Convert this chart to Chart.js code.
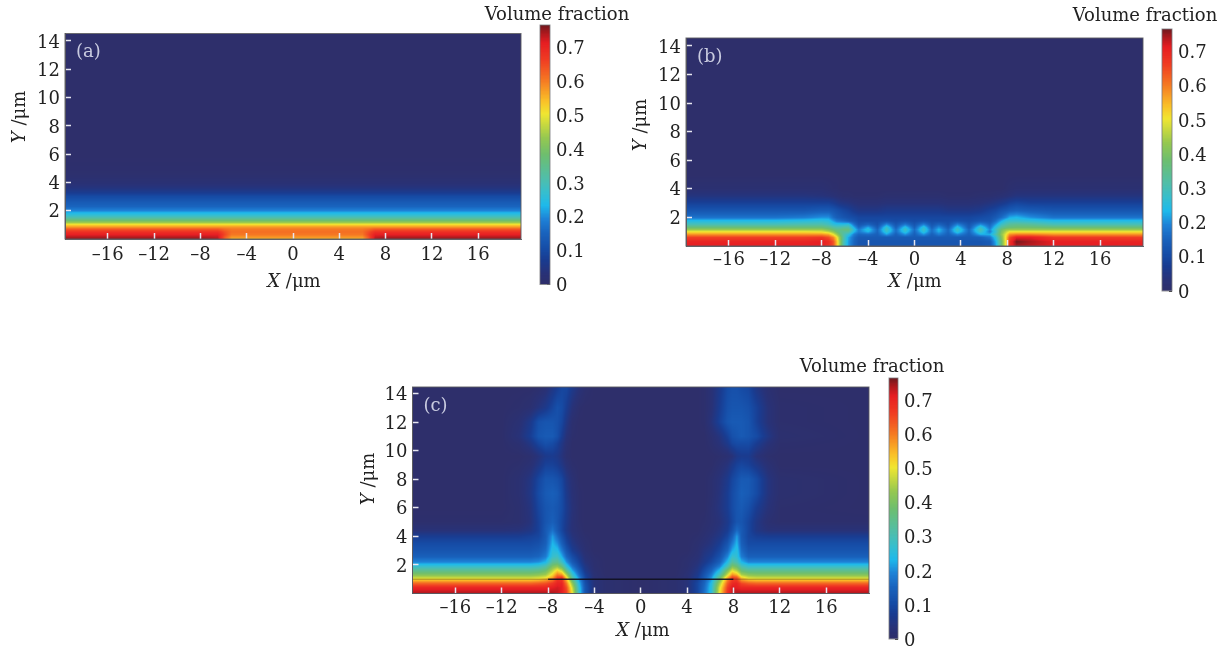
<!DOCTYPE html>
<html>
<head>
<meta charset="utf-8">
<title>Volume fraction</title>
<script src="https://cdn.jsdelivr.net/npm/chart.js@4/dist/chart.umd.min.js"></script>
<style>
html,body{margin:0;padding:0;background:#fff;}
body{position:relative;width:1227px;height:647px;overflow:hidden;}
canvas{position:absolute;}
</style>
</head>
<body>
<script>
// tick labels
const xTicks = [-16, -12, -8, -4, 0, 4, 8, 12, 16];
const yTicks = [2, 4, 6, 8, 10, 12, 14];
const barTicks = [0, 0.1, 0.2, 0.3, 0.4, 0.5, 0.6, 0.7];

// colour bar: value -> rgb
const mapValues = [0, .03, .07, .1, .15, .19, .23, .27, .31, .38, .43, .5, .54, .6, .66, .71, .74, .766];
const mapColors = [[46,47,107],[40,50,120],[25,60,145],[22,75,165],[25,100,190],[30,130,215],[30,185,235],[55,190,205],[80,190,170],[110,190,110],[150,200,80],[240,230,50],[250,190,40],[245,120,35],[240,60,35],[230,30,35],[170,25,30],[100,25,30]];

// values, volume fraction in %, one line per Y
const aX = [-19.7, -8, -6.5, -5.9, -5.3, 0, 6, 6.5, 7.1, 8, 19.7];
const aY = [0, .1, .3, .5, .7, .85, 1, 1.15, 1.3, 1.5, 1.7, 1.85, 2, 2.3, 2.6, 3, 3.3, 3.6, 4, 4.6, 6, 14.4];
const aVal = [
[75,75,74,62,54,54,54,62,74,75,75],
[74,74,73,63,57,57,57,63,73,74,74],
[71,71,71,65,60,60,60,65,71,71,71],
[68,68,68,64,61,61,61,64,68,68,68],
[63,63,63,61,60,60,60,61,63,63,63],
[57,57,57,57,57,57,57,57,57,57,57],
[52,52,52,52,52,52,52,52,52,52,52],
[44,44,44,44,44,44,44,44,44,44,44],
[38,38,38,38,38,38,38,38,38,38,38],
[31,31,31,31,31,31,31,31,31,31,31],
[26,26,26,26,26,26,26,26,26,26,26],
[23,23,23,23,23,23,23,23,23,23,23],
[19,19,19,19,19,19,19,19,19,19,19],
[15,15,15,15,15,15,15,15,15,15,15],
[13,13,13,13,13,13,13,13,13,13,13],
[10,10,10,10,10,10,10,10,10,10,10],
[6.5,6.5,6.5,6.5,6.5,6.5,6.5,6.5,6.5,6.5,6.5],
[4,4,4,4,4,4,4,4,4,4,4],
[2,2,2,2,2,2,2,2,2,2,2],
[.6,.6,.6,.6,.6,.6,.6,.6,.6,.6,.6],
[0,0,0,0,0,0,0,0,0,0,0],
[0,0,0,0,0,0,0,0,0,0,0]
];

const bX = [-19.7,-12,-9.5,-8,-7.4,-7,-6.7,-6.4,-6.1,-5.7,-5.2,-4.8,-4,-3.2,-2.4,-1.6,-.8,0,.8,1.5,2.1,2.9,3.7,4.7,5.7,6.5,7,7.5,7.9,8.2,8.8,10,12,19.7];
const bY = [0, .3, .6, .8, 1, 1.15, 1.3, 1.5, 1.75, 2, 2.5, 3, 3.5, 4, 5, 14.4];
const bVal = [
[71,71,71,71,68,64,54,42,30,21,15,12,12,12,12,12,12,12,12,12,12,12,12,12,12,13,21,38,52,68,74,73,71,71],
[70,70,70,71,69,64,54,42,30,21,15,12,12,12,12,12,12,12,12,12,12,12,12,12,12,13,22,38,52,68,76,74,71,70],
[66,66,66,67,64,59,51,41,31,22,16,13,13,13,13,13,13,13,13,13,13,13,13,13,14,17,25,40,52,64,71,71,67,66],
[58,58,58,58,56,50,44,37,31,26,18,15,16,14,21,14,20,14,20,14,18,14,19,14,22,22,30,42,50,58,60,60,58,58],
[50,50,50,49,46,42,37,34,33,33,23,18,23,15,27,16,26,15,26,16,22,15,26,15,28,18,27,40,46,50,50,50,50,50],
[43,43,43,43,40,37,35,35,36,36,25,18,25,15,29,16,28,16,28,16,23,15,28,15,30,19,28,38,42,43,43,43,43,43],
[37,37,37,37,35,32,31,31,32,32,22,15,22,13,27,14,25,14,26,14,20,13,25,13,27,17,25,33,36,37,38,38,37,37],
[30,30,31,31,29,26,25,25,25,26,17,12,15,11,20,12,18,12,19,12,15,11,19,12,20,15,21,28,31,33,34,33,30,30],
[24,24,25,26,25,21,18,17,16,14,12,10,10,10,11,10,11,10,11,10,10,10,11,10,12,12,16,22,26,27,27,26,24,24],
[17,17,18,20,20,16,14,13,12,11,10,9,9,9,9,9,9,9,9,9,9,9,9,9,10,11,13,16,19,22,23,20,17,17],
[12,12,12,13,13,12,11,10,9,8,6,5,5,5,6,6,6,6,6,6,6,5,5,5,6,8,9,11,12,13,14,13,12,12],
[8,8,8,8,8,7,6,5,4.5,4,3,2.5,2.5,2.5,3,3,3,3,3,3,3,2.5,2.5,2.5,3,4,5,6,7,8,9,8,8,8],
[4,4,4,3.5,3,2.5,2,1.5,1,1,.5,.5,.5,.5,1,1,1,1,1,1,1,.5,.5,.5,1,1,1.5,2,2.5,3,4,4,4,4],
[1.5,1.5,1.5,1.5,1,.5,.5,0,0,0,0,0,0,0,0,0,0,0,0,0,0,0,0,0,0,0,0,0,.5,1,1.5,1.5,1.5,1.5],
[0,0,0,0,0,0,0,0,0,0,0,0,0,0,0,0,0,0,0,0,0,0,0,0,0,0,0,0,0,0,0,0,0,0],
[0,0,0,0,0,0,0,0,0,0,0,0,0,0,0,0,0,0,0,0,0,0,0,0,0,0,0,0,0,0,0,0,0,0]
];

const cX = [-19.7,-12,-10.5,-9.5,-8.8,-8.2,-7.6,-7.2,-6.8,-6.4,-5.9,-5.3,-4.8,-4,-3,0,3,4,4.9,5.5,6.1,6.8,7.5,7.9,8.3,8.7,9.3,10,11,12,19.7];
const cY = [0, .4, .7, .9, 1.1, 1.3, 1.6, 1.9, 2.2, 2.6, 3, 3.5, 4, 4.4, 5, 6, 7, 8, 9, 9.6, 10.5, 11, 12, 13, 14.4];
const cVal = [
[74,74,74,74,74,74,74,73,71,66,50,26,12,3,1,0,1,3,9,17,25,50,68,73,74,74,74,74,74,74,74],
[70,70,70,70,70,70,71,72,71,64,47,25,12,3,1,0,1,3,9,16,25,48,66,72,71,70,70,70,70,70,70],
[62,62,62,62,63,64,67,70,70,60,42,23,11,3,1,0,1,3,9,15,24,44,63,69,70,65,63,62,62,62,62],
[55,55,55,55,56,58,62,68,68,56,37,21,10,3,1,0,1,3,8,14,22,40,60,67,67,59,56,55,55,55,55],
[47,47,47,47,48,50,57,66,68,52,32,19,9,2,.5,0,.5,2,7,13,20,36,56,66,64,53,48,47,47,47,47],
[41,41,41,41,42,44,52,60,58,45,28,16,8,2,0,0,0,2,6,12,18,30,48,58,55,45,42,41,41,41,41],
[34,34,34,34,35,38,46,52,47,34,22,13,6,1.5,0,0,0,1.5,5,10,15,24,40,49,45,37,34,34,34,34,34],
[27,27,27,27,28,31,40,42,36,26,17,10,5,1,0,0,0,1,4,8,12,18,30,40,37,30,27,27,27,27,27],
[19,19,19,19,20,23,33,34,28,20,13,8,3.5,1,0,0,0,1,3,6,9,14,24,32,30,23,19,19,19,19,19],
[14,14,14,14,15,18,27,28,22,15,10,6,2.5,.5,0,0,0,.5,2,5,7,11,19,27,26,18,14,14,14,14,14],
[12,12,12,12,13,16,25,24,18,12,7,4,1.5,0,0,0,0,0,1.5,4,5.5,9,15,22,25,16,12,12,12,12,12],
[10,10,10,10,11,14,23,20,14,9,5,2.5,1,0,0,0,0,0,1,2.5,4,7,12,18,23,14,10,10,10,10,10],
[7,7,7,8,9,13,21,16,11,7,3.5,1.5,.5,0,0,0,0,0,.5,1.5,3,5,9,14,21,13,9,7.5,7,7,7],
[3,3,3.5,5,8,13,17,13,9,5.5,2.5,1,0,0,0,0,0,0,0,1,2,4,7,11,16,13,9,5,3,3,3],
[.5,.5,1,3.5,8,12,14,12,9,6,2.5,.5,0,0,0,0,0,0,0,.5,1.5,3,6,9,12,12,9,5,1.5,.5,.5],
[0,0,1,4,9,12,13,12,10,6.5,3,.5,0,0,0,0,0,0,0,0,1.5,4,7,10,12,13,11,7,3,.5,0],
[0,0,1.5,5,10,13,14,13,10,6,2.5,.5,0,0,0,0,0,0,0,0,1,3.5,7,10,12,14,13,10,4,1,0],
[0,0,1.5,4.5,9,12,12,11,9,5,2,0,0,0,0,0,0,0,0,0,1,3,6,9,11,13,13,10,4,1,0],
[0,0,.5,2,5,8,8,7,5,2.5,.5,0,0,0,0,0,0,0,0,0,0,1.5,3.5,6,8,9,8,5.5,2,0,0],
[0,0,0,1,3.5,6,6.5,5.5,3.5,1,0,0,0,0,0,0,0,0,0,0,0,.5,1.5,3,5.5,6.5,6.5,3,.5,0,0],
[0,0,1.5,5,9,11,10,8,5,2,0,0,0,0,0,0,0,0,0,0,1,3,6,9,10,10,10,7,3,.5,0],
[0,0,3,7.5,12,13,13,11,7,3,.5,0,0,0,0,0,0,0,0,0,1.5,4,8,11,12,13,12,10,5,1,0],
[0,0,2,6,11,12,12,11,9,5,1,0,0,0,0,0,0,0,0,.5,3.5,8,12,13,13,13,12,8,3,.5,0],
[0,0,.5,1.5,4,6,9,11,10,7,3,.5,0,0,0,0,0,0,0,.5,2.5,7,11,12,12,12,11,8,3,.5,0],
[0,0,0,0,.5,2,5,7,9,9,6,3,1,0,0,0,0,0,0,.5,2.5,6,10,11,11,10,9,5,1.5,0,0]
];

// thin dark contour of panel (c), at Y = 1
const cLineX = [-8, 8];
const cLineY = [1, 1];
const cFaintLeftX = [-19.7, -8];
const cFaintRightX = [8, 19.7];

const serif = "'DejaVu Serif'";
Chart.defaults.font.family = serif;
Chart.defaults.font.size = 18;
Chart.defaults.color = '#222222';
Chart.defaults.animation = false;

function fmtX(v) { return v < 0 ? '\u2013' + (-v) : String(v); }
// empty first line with a tiny line height pushes the label down to sit on its tick
function lowered(text) { return ['', text]; }
const lowFont = {lineHeight: '4px'};

function colorFor(v) {
    if (v <= mapValues[0]) return mapColors[0];
    for (let i = 1; i < mapValues.length; i++) {
        if (v <= mapValues[i]) {
            const t = (v - mapValues[i-1]) / (mapValues[i] - mapValues[i-1]);
            const a = mapColors[i-1], b = mapColors[i];
            return [a[0]+(b[0]-a[0])*t, a[1]+(b[1]-a[1])*t, a[2]+(b[2]-a[2])*t];
        }
    }
    return mapColors[mapColors.length-1];
}

// where p falls between the nodes in list: [index, fraction]
function locate(list, p) {
    if (p <= list[0]) return [0, 0];
    for (let i = 1; i < list.length; i++) {
        if (p <= list[i]) return [i-1, (p - list[i-1]) / (list[i] - list[i-1])];
    }
    return [list.length-2, 1];
}

// paints the field behind the axes, going through the chart's own scales
function fieldPlugin(xs, ys, vals, tag, title) {
    return {
        id: 'field',
        beforeDraw(chart) {
            const area = chart.chartArea, sx = chart.scales.x, sy = chart.scales.y;
            const l = Math.round(area.left), t = Math.round(area.top);
            const w = Math.round(area.right) - l, h = Math.round(area.bottom) - t;
            const off = document.createElement('canvas');
            off.width = w; off.height = h;
            const oc = off.getContext('2d');
            const img = oc.createImageData(w, h);
            const colPos = [];
            for (let i = 0; i < w; i++) colPos.push(locate(xs, sx.getValueForPixel(l + i + .5)));
            for (let j = 0; j < h; j++) {
                const rp = locate(ys, sy.getValueForPixel(t + j + .5));
                const r0 = vals[rp[0]], r1 = vals[rp[0]+1];
                for (let i = 0; i < w; i++) {
                    const c = colPos[i][0], f = colPos[i][1];
                    const top = r0[c] + (r0[c+1] - r0[c]) * f;
                    const bot = r1[c] + (r1[c+1] - r1[c]) * f;
                    const rgb = colorFor((top + (bot - top) * rp[1]) / 100);
                    const k = (j * w + i) * 4;
                    img.data[k] = rgb[0]; img.data[k+1] = rgb[1]; img.data[k+2] = rgb[2]; img.data[k+3] = 255;
                }
            }
            oc.putImageData(img, 0, 0);
            chart.ctx.drawImage(off, l, t);
        },
        afterDraw(chart) {
            const area = chart.chartArea, ctx = chart.ctx;
            ctx.save();
            ctx.strokeStyle = 'rgba(90,90,95,0.9)';
            ctx.lineWidth = 1;
            ctx.strokeRect(area.left, area.top, area.right - area.left, area.bottom - area.top);
            // panel letter
            ctx.font = '18px ' + serif;
            ctx.fillStyle = '#c9cbe0';
            ctx.textBaseline = 'middle';
            ctx.fillText(tag, area.left + 11, area.top + 19);
            // axis titles, italic letter and upright unit
            ctx.fillStyle = '#222222';
            ctx.textAlign = 'left';
            ctx.font = 'italic 18px ' + serif;
            const xw = ctx.measureText('X ').width;
            ctx.font = '18px ' + serif;
            const uw = ctx.measureText('/\u03bcm').width;
            let px = title.xc - (xw + uw) / 2;
            ctx.font = 'italic 18px ' + serif;
            ctx.fillText('X ', px, title.xy);
            ctx.font = '18px ' + serif;
            ctx.fillText('/\u03bcm', px + xw, title.xy);
            ctx.translate(title.yx, title.yc);
            ctx.rotate(-Math.PI / 2);
            ctx.font = 'italic 18px ' + serif;
            const yw = ctx.measureText('Y ').width;
            px = -(yw + uw) / 2;
            ctx.fillText('Y ', px, 0);
            ctx.font = '18px ' + serif;
            ctx.fillText('/\u03bcm', px + yw, 0);
            ctx.restore();
        }
    };
}

function addCanvas(left, top, width, height) {
    const cv = document.createElement('canvas');
    cv.width = width; cv.height = height;
    cv.style.left = left + 'px'; cv.style.top = top + 'px';
    cv.style.width = width + 'px'; cv.style.height = height + 'px';
    document.body.appendChild(cv);
    return cv;
}

function drawField(box, xs, ys, vals, tag, title, extra) {
    const padL = 65, padT = 10, padR = 10, padB = 60;
    const cl = Math.floor(box.l - padL), ct = Math.floor(box.t - padT);
    const w = Math.ceil(box.r + padR) - cl, h = Math.ceil(box.b + padB) - ct;
    const nodes = [];
    ys.forEach((y, j) => {
        if (vals[j].length !== xs.length) throw new Error(tag + ' row ' + j + ' has ' + vals[j].length);
        xs.forEach((x, i) => nodes.push({x: x, y: y, v: vals[j][i]}));
    });
    const t = {xc: title.xc - cl, xy: title.xy - ct, yx: title.yx - cl, yc: title.yc - ct};
    new Chart(addCanvas(cl, ct, w, h), {
        type: 'scatter',
        data: {
            datasets: [{label: 'Volume fraction', data: nodes, pointRadius: 0, pointHitRadius: 0}].concat(extra || [])
        },
        plugins: [fieldPlugin(xs, ys, vals, tag, t)],
        options: {
            responsive: false,
            events: [],
            layout: {padding: {left: 0, top: box.t - ct, right: w - (box.r - cl), bottom: 0}},
            plugins: {legend: {display: false}, tooltip: {enabled: false}},
            scales: {
                x: {
                    type: 'linear', position: 'bottom', min: -19.7, max: 19.7,
                    afterBuildTicks(s) { s.ticks = xTicks.map(v => ({value: v})); },
                    afterFit(s) { s.height = h - (box.b - ct); s.paddingLeft = 0; s.paddingRight = 0; },
                    ticks: {callback: fmtX, autoSkip: false, maxRotation: 0, padding: title.xPad},
                    grid: {drawOnChartArea: false, tickLength: -6, tickColor: '#e6e6f0', tickWidth: 1.5},
                    border: {color: 'rgba(90,90,95,0.9)'}
                },
                y: {
                    type: 'linear', position: 'left', min: 0, max: box.yMax,
                    afterBuildTicks(s) { s.ticks = yTicks.map(v => ({value: v})); },
                    afterFit(s) { s.width = box.l - cl; s.paddingTop = 0; s.paddingBottom = 0; },
                    ticks: {autoSkip: false, padding: 11, font: lowFont, callback: v => lowered(String(v))},
                    grid: {drawOnChartArea: false, tickLength: -6, tickColor: '#e6e6f0', tickWidth: 1.5},
                    border: {color: 'rgba(90,90,95,0.9)'}
                }
            }
        }
    });
}

// colour bar as stacked floating bars
function drawBar(box, titleCx, titleCy) {
    const half = 84;
    const cl = Math.round(titleCx - half), ct = Math.round(titleCy - 12);
    const w = half * 2 + 6, h = Math.ceil(box.b) - ct + 16;
    const sets = [];
    const top = 0.766, step = 0.004;
    for (let v = 0; v < top; v += step) {
        const c = colorFor(v + step / 2);
        sets.push({
            data: [[v, Math.min(v + step * 1.6, top)]],
            backgroundColor: 'rgb(' + c.map(Math.round).join(',') + ')',
            borderWidth: 0, barPercentage: 1, categoryPercentage: 1, grouped: false
        });
    }
    new Chart(addCanvas(cl, ct, w, h), {
        type: 'bar',
        data: {labels: ['Volume fraction'], datasets: sets},
        plugins: [{
            id: 'barFrame',
            afterDraw(chart) {
                const a = chart.chartArea, ctx = chart.ctx;
                ctx.save();
                ctx.strokeStyle = 'rgba(120,120,125,0.8)';
                ctx.strokeRect(a.left, a.top, a.right - a.left, a.bottom - a.top);
                ctx.font = '18px ' + serif;
                ctx.fillStyle = '#222222';
                ctx.textAlign = 'center';
                ctx.textBaseline = 'middle';
                ctx.fillText('Volume fraction', titleCx - cl, titleCy - ct);
                ctx.restore();
            }
        }],
        options: {
            responsive: false,
            events: [],
            layout: {padding: {left: box.l - cl, top: box.t - ct, right: 0, bottom: h - (box.b - ct)}},
            plugins: {legend: {display: false}, tooltip: {enabled: false}},
            scales: {
                x: {display: false},
                y: {
                    type: 'linear', position: 'right', min: 0, max: top,
                    afterBuildTicks(s) { s.ticks = barTicks.map(v => ({value: v})); },
                    afterFit(s) { s.width = w - (box.r - cl); s.paddingTop = 0; s.paddingBottom = 0; },
                    ticks: {autoSkip: false, padding: 9, font: lowFont, callback: v => lowered(v === 0 ? '0' : v.toFixed(1))},
                    grid: {drawOnChartArea: false, tickLength: -3, tickColor: '#333', tickWidth: 1},
                    border: {display: false}
                }
            }
        }
    });
}

drawField({l: 65, t: 33.5, r: 521, b: 239, yMax: 14.53}, aX, aY, aVal, '(a)',
    {xc: 294, xy: 282, yx: 20, yc: 117, xPad: 12});
drawBar({l: 540, t: 25, r: 550, b: 284.5}, 557, 15);

drawField({l: 686, t: 38, r: 1143, b: 246, yMax: 14.55}, bX, bY, bVal, '(b)',
    {xc: 915, xy: 282, yx: 641, yc: 125, xPad: 10});
drawBar({l: 1162, t: 29, r: 1172, b: 291}, 1145, 16);

const line = {type: 'scatter', showLine: true, pointRadius: 0, borderWidth: 1.5};
drawField({l: 412.5, t: 387, r: 869, b: 593.5, yMax: 14.45}, cX, cY, cVal, '(c)',
    {xc: 643, xy: 631, yx: 369, yc: 479, xPad: 10},
    [
        Object.assign({}, line, {data: cLineX.map((x, i) => ({x: x, y: cLineY[i]})), borderColor: 'rgba(15,15,30,0.9)'}),
        Object.assign({}, line, {data: cFaintLeftX.map((x, i) => ({x: x, y: cLineY[i]})), borderColor: 'rgba(60,40,20,0.3)'}),
        Object.assign({}, line, {data: cFaintRightX.map((x, i) => ({x: x, y: cLineY[i]})), borderColor: 'rgba(60,40,20,0.3)'})
    ]);
drawBar({l: 889, t: 378, r: 898, b: 639}, 872, 367);
</script>
</body>
</html>
